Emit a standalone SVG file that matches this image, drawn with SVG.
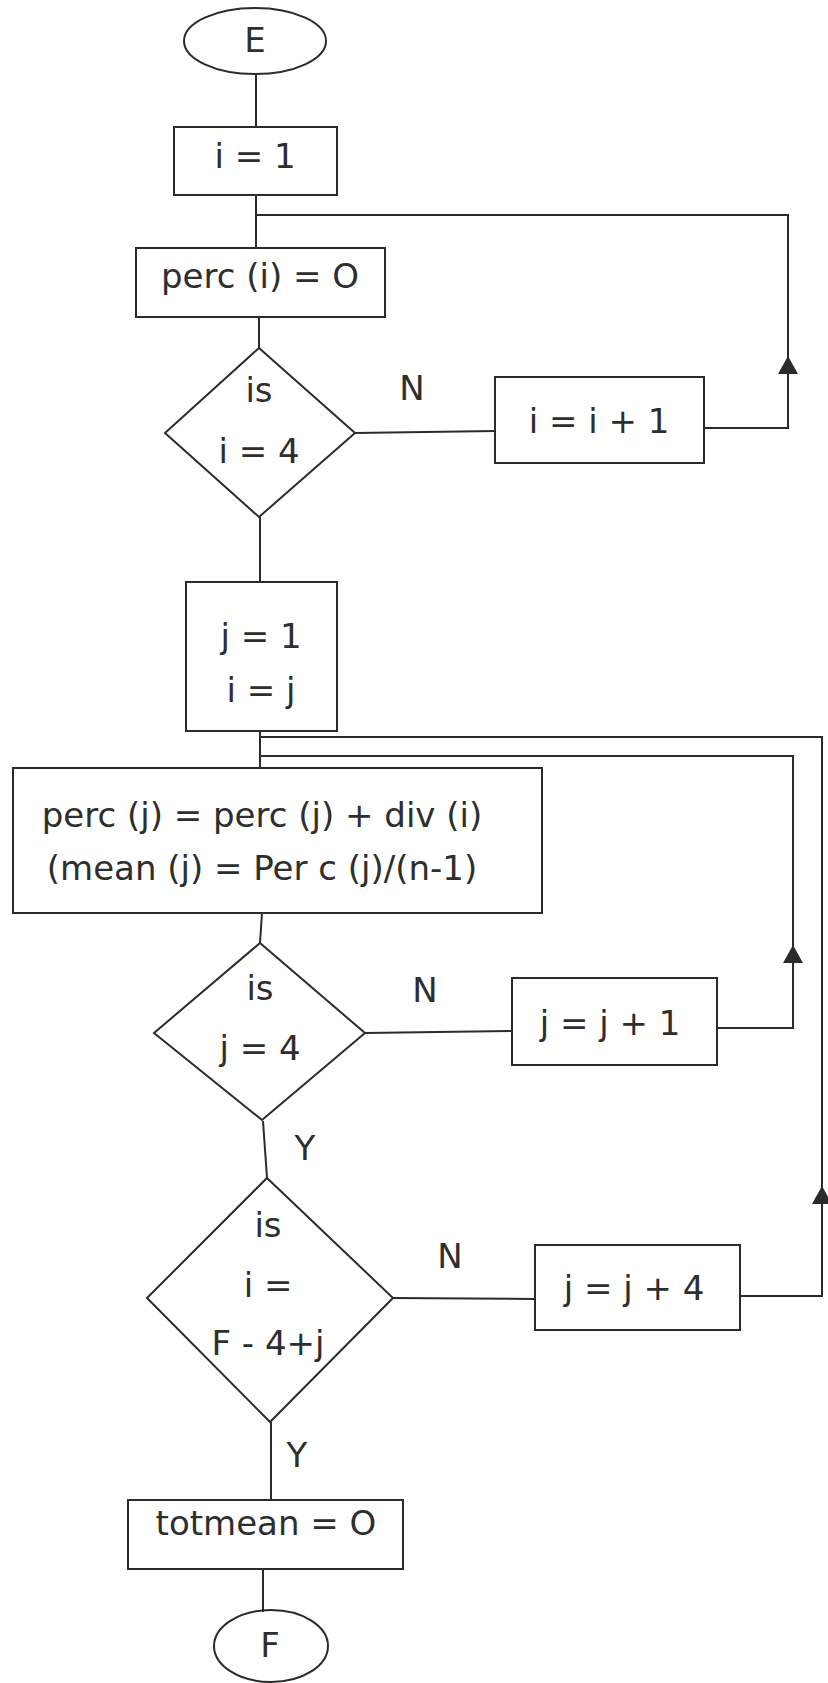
<svg xmlns="http://www.w3.org/2000/svg" xmlns:xlink="http://www.w3.org/1999/xlink" width="828" height="1683" viewBox="0 0 828 1683">
  <style>
    .shape { fill: none; stroke: #2b2b2b; stroke-width: 2; }
    .wire { fill: none; stroke: #2b2b2b; stroke-width: 2; }
    .lbl { font-family: "DejaVu Sans", "Liberation Sans", sans-serif; font-size: 34px; fill: #2e2e2e; text-anchor: middle; }
    .head { fill: #2b2b2b; stroke: none; }
  </style>
  <defs>
    <!-- upward-pointing filled arrowhead, tip at origin -->
    <path id="arrowUp" class="head" d="M0,0 L-10,18 L10,18 Z"/>
  </defs>
  <rect width="828" height="1683" fill="#ffffff"/>

  <!-- connectors -->
  <g id="connectors">
    <line class="wire" x1="256" y1="74" x2="256" y2="127"/>
    <line class="wire" x1="256" y1="195" x2="256" y2="248"/>
    <polyline class="wire" points="704,428 788,428 788,215 256,215"/>
    <use xlink:href="#arrowUp" x="788" y="356"/>
    <line class="wire" x1="259" y1="317" x2="259" y2="348"/>
    <line class="wire" x1="355" y1="433" x2="495" y2="431"/>
    <line class="wire" x1="260" y1="517" x2="260" y2="582"/>
    <line class="wire" x1="260" y1="731" x2="260" y2="768"/>
    <polyline class="wire" points="740,1296 822,1296 822,737 260,737"/>
    <use xlink:href="#arrowUp" x="822" y="1186"/>
    <polyline class="wire" points="717,1028 793,1028 793,756 260,756"/>
    <use xlink:href="#arrowUp" x="793" y="945"/>
    <line class="wire" x1="262" y1="913" x2="260" y2="943"/>
    <line class="wire" x1="365" y1="1033" x2="512" y2="1031"/>
    <line class="wire" x1="263" y1="1121" x2="267" y2="1178"/>
    <line class="wire" x1="393" y1="1298" x2="535" y2="1299"/>
    <line class="wire" x1="271" y1="1422" x2="271" y2="1500"/>
    <line class="wire" x1="263" y1="1569" x2="263" y2="1612"/>
    <text class="lbl" x="412" y="400">N</text>
    <text class="lbl" x="425" y="1002">N</text>
    <text class="lbl" x="305" y="1160">Y</text>
    <text class="lbl" x="450" y="1268">N</text>
    <text class="lbl" x="297" y="1467">Y</text>
  </g>

  <g id="start">
    <ellipse class="shape" cx="255" cy="41" rx="71" ry="33"/>
    <text class="lbl" x="255" y="52">E</text>
  </g>

  <g id="init-i">
    <rect class="shape" x="174" y="127" width="163" height="68"/>
    <text class="lbl" x="255" y="168">i = 1</text>
  </g>

  <g id="reset-perc">
    <rect class="shape" x="136" y="248" width="249" height="69"/>
    <text class="lbl" x="260" y="288">perc (i) = O</text>
  </g>

  <g id="test-i">
    <polygon class="shape" points="259,348 355,433 259,517 165,433"/>
    <text class="lbl" x="259" y="402">is</text>
    <text class="lbl" x="259" y="463">i = 4</text>
  </g>

  <g id="inc-i">
    <rect class="shape" x="495" y="377" width="209" height="86"/>
    <text class="lbl" x="599" y="433">i = i + 1</text>
  </g>

  <g id="init-j">
    <rect class="shape" x="186" y="582" width="151" height="149"/>
    <text class="lbl" x="261" y="648">j = 1</text>
    <text class="lbl" x="261" y="702">i = j</text>
  </g>

  <g id="accumulate">
    <rect class="shape" x="13" y="768" width="529" height="145"/>
    <text class="lbl" x="262" y="827">perc (j) = perc (j) + div (i)</text>
    <text class="lbl" x="262" y="880">(mean (j) = Per c (j)/(n-1)</text>
  </g>

  <g id="test-j">
    <polygon class="shape" points="260,943 365,1033 262,1120 154,1033"/>
    <text class="lbl" x="260" y="1000">is</text>
    <text class="lbl" x="260" y="1060">j = 4</text>
  </g>

  <g id="inc-j1">
    <rect class="shape" x="512" y="978" width="205" height="87"/>
    <text class="lbl" x="610" y="1035">j = j + 1</text>
  </g>

  <g id="test-f">
    <polygon class="shape" points="267,1178 393,1298 270,1422 147,1298"/>
    <text class="lbl" x="268" y="1237">is</text>
    <text class="lbl" x="268" y="1297">i =</text>
    <text class="lbl" x="268" y="1355">F - 4+j</text>
  </g>

  <g id="inc-j4">
    <rect class="shape" x="535" y="1245" width="205" height="85"/>
    <text class="lbl" x="634" y="1300">j = j + 4</text>
  </g>

  <g id="reset-totmean">
    <rect class="shape" x="128" y="1500" width="275" height="69"/>
    <text class="lbl" x="266" y="1535">totmean = O</text>
  </g>

  <g id="end">
    <ellipse class="shape" cx="271" cy="1646" rx="57" ry="36"/>
    <text class="lbl" x="270" y="1657">F</text>
  </g>
</svg>
